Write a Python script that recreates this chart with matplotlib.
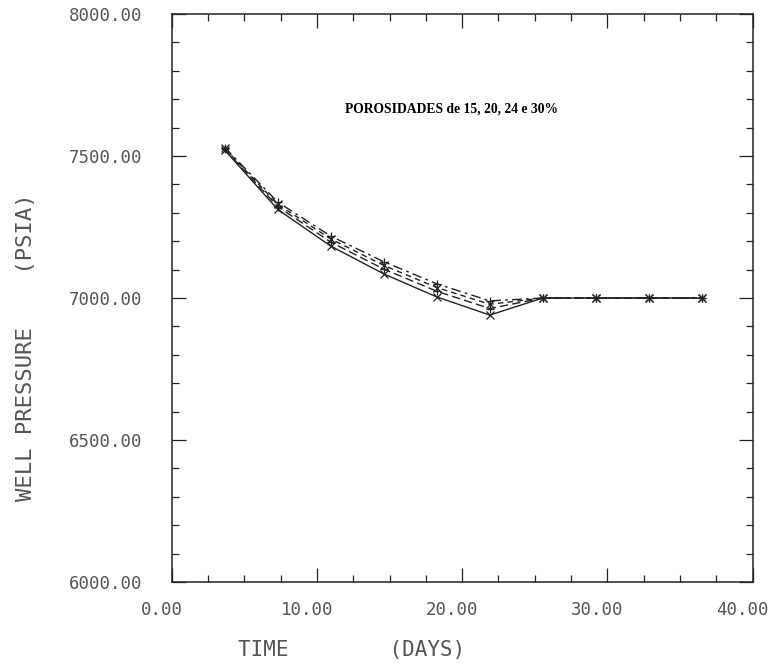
import matplotlib
matplotlib.use("Agg")
import matplotlib.pyplot as plt
import matplotlib.transforms as mtransforms
from matplotlib.ticker import MultipleLocator, FormatStrFormatter

# ─── Data ────────────────────────────────────────────────────────────────────

days = [3.65, 7.30, 10.95, 14.60, 18.25, 21.90, 25.55, 29.20, 32.85, 36.50]

p_phi15 = [7521, 7312, 7183, 7085, 7004, 6940, 7000, 7000, 7000, 7000]
p_phi20 = [7524, 7322, 7197, 7102, 7024, 6963, 7000, 7000, 7000, 7000]
p_phi24 = [7527, 7330, 7208, 7115, 7037, 6978, 7000, 7000, 7000, 7000]
p_phi30 = [7530, 7338, 7218, 7128, 7050, 6990, 7000, 7000, 7000, 7000]

title_text = "POROSIDADES de 15, 20, 24 e 30%"

# ─── Style ───────────────────────────────────────────────────────────────────

INK = "#222222"
PLOT_GREY = "#555555"
MONO = "DejaVu Sans Mono"

fig = plt.figure(figsize=(7.73, 6.68), dpi=100, facecolor="white")
ax = fig.add_axes([0.2221, 0.1287, 0.7516, 0.8503])

series = [
    (p_phi15, "-", "x"),
    (p_phi20, (0, (6, 3)), "+"),
    (p_phi24, (0, (4, 3)), "x"),
    (p_phi30, (0, (7, 3, 2, 3)), "+"),
]
for values, ls, mk in series:
    ax.plot(days, values, color=INK, lw=1.0, ls=ls,
            marker=mk, ms=6, mew=0.9, mec=INK)

ax.set_xlim(0, 40)
ax.set_ylim(6000, 8000)

ax.xaxis.set_major_locator(MultipleLocator(10))
ax.xaxis.set_minor_locator(MultipleLocator(2.5))
ax.yaxis.set_major_locator(MultipleLocator(500))
ax.yaxis.set_minor_locator(MultipleLocator(100))
ax.xaxis.set_major_formatter(FormatStrFormatter("%.2f"))
ax.yaxis.set_major_formatter(FormatStrFormatter("%.2f"))

ax.tick_params(which="both", direction="in", top=True, right=True,
               color=INK, width=0.9)
ax.tick_params(which="major", length=10)
ax.tick_params(which="minor", length=5)
ax.tick_params(axis="x", which="major", pad=14, labelsize=12.5,
               labelcolor=PLOT_GREY)
ax.tick_params(axis="y", which="major", pad=21, labelsize=12.5,
               labelcolor=PLOT_GREY)
for lab in ax.get_xticklabels() + ax.get_yticklabels():
    lab.set_family(MONO)

# plotter labels sit a little left of their ticks
shift = mtransforms.ScaledTranslation(-10 / 100, 0, fig.dpi_scale_trans)
for lab in ax.get_xticklabels():
    lab.set_transform(lab.get_transform() + shift)

for sp in ax.spines.values():
    sp.set_color(INK)
    sp.set_linewidth(1.1)

# Axis titles in plotter-style spacing
fig.text(0.455, 0.027, "TIME        (DAYS)", family=MONO, fontsize=15,
         color=PLOT_GREY, ha="center", va="center")
fig.text(0.033, 0.48, "WELL PRESSURE    (PSIA)", family=MONO, fontsize=16,
         color=PLOT_GREY, ha="center", va="center", rotation=90)

ax.text(0.482, 0.833, title_text, transform=ax.transAxes,
        family=["Liberation Serif", "DejaVu Serif"], fontweight="bold",
        fontsize=9.8, color="black", ha="center", va="center")

fig.savefig("out.png", dpi=100, facecolor="white")
